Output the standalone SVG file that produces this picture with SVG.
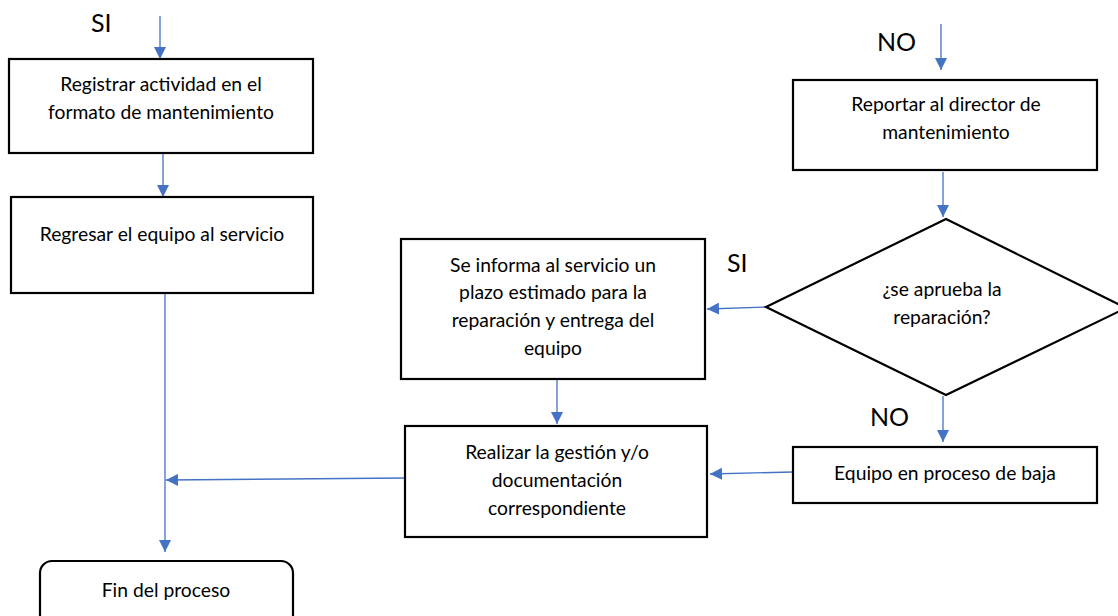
<svg xmlns="http://www.w3.org/2000/svg" width="1118" height="616" viewBox="0 0 1118 616">
<defs>
<marker id="ah" viewBox="0 0 12 12" refX="12" refY="6" markerWidth="12" markerHeight="12" markerUnits="userSpaceOnUse" orient="auto">
<path d="M0,0 L12,6 L0,12 z" fill="#4472C4"/>
</marker>
<style>
.box{fill:#fff;stroke:#000;stroke-width:2.2}
.t{font-family:Lato,"Open Sans","Liberation Sans",sans-serif;font-size:19.3px;fill:#000;text-anchor:middle}
.lbl{font-family:Lato,"Open Sans","Liberation Sans",sans-serif;font-size:25px;fill:#000}
.c{fill:none;stroke:#4472C4;stroke-width:1.3;marker-end:url(#ah)}
</style>
</defs>
<rect width="1118" height="616" fill="#fff"/>
<g id="labels">
<text class="lbl" x="91" y="32">SI</text>
<text class="lbl" x="877" y="51">NO</text>
<text class="lbl" x="727" y="272">SI</text>
<text class="lbl" x="870" y="426">NO</text>
</g>
<g id="connectors">
<line class="c" x1="160" y1="16" x2="160" y2="59"/>
<line class="c" x1="163" y1="154" x2="163" y2="197"/>
<line class="c" x1="165" y1="293" x2="165" y2="552"/>
<line class="c" x1="407" y1="478" x2="166" y2="480"/>
<line class="c" x1="941" y1="24" x2="941" y2="70"/>
<line class="c" x1="943" y1="172" x2="943" y2="217"/>
<line class="c" x1="767" y1="307" x2="707" y2="309"/>
<line class="c" x1="557" y1="380" x2="557" y2="424"/>
<line class="c" x1="943" y1="396" x2="943" y2="442"/>
<line class="c" x1="793" y1="472" x2="710" y2="474"/>
</g>
<g id="n1">
<rect class="box" x="9" y="59" width="304" height="94"/>
<text class="t" x="161" y="91">Registrar actividad en el</text>
<text class="t" x="161" y="119">formato de mantenimiento</text>
</g>
<g id="n2">
<rect class="box" x="11" y="197" width="302" height="96"/>
<text class="t" x="162" y="241">Regresar el equipo al servicio</text>
</g>
<g id="n3">
<rect class="box" x="40" y="561" width="253" height="70" rx="12"/>
<text class="t" x="166" y="597">Fin del proceso</text>
</g>
<g id="n4">
<rect class="box" x="793" y="80" width="304" height="90"/>
<text class="t" x="946" y="111">Reportar al director de</text>
<text class="t" x="946" y="139">mantenimiento</text>
</g>
<g id="n5">
<polygon class="box" points="946,219 1126,308 946,395 766,307"/>
<text class="t" x="942" y="296">¿se aprueba la</text>
<text class="t" x="942" y="324">reparación?</text>
</g>
<g id="n6">
<rect class="box" x="401" y="239" width="304" height="140"/>
<text class="t" x="553" y="272">Se informa al servicio un</text>
<text class="t" x="553" y="299">plazo estimado para la</text>
<text class="t" x="553" y="327">reparación y entrega del</text>
<text class="t" x="553" y="355">equipo</text>
</g>
<g id="n7">
<rect class="box" x="405" y="426" width="302" height="111"/>
<text class="t" x="557" y="459">Realizar la gestión y/o</text>
<text class="t" x="557" y="487">documentación</text>
<text class="t" x="557" y="515">correspondiente</text>
</g>
<g id="n8">
<rect class="box" x="793" y="447" width="304" height="56"/>
<text class="t" x="945" y="480">Equipo en proceso de baja</text>
</g>
</svg>
